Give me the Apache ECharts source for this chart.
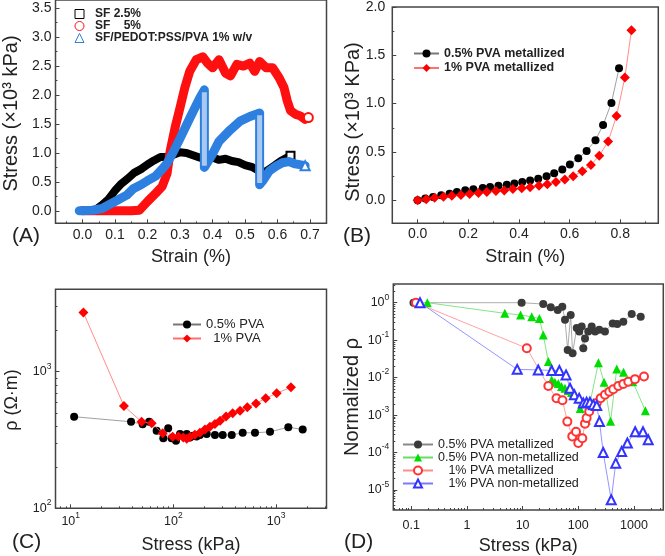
<!DOCTYPE html>
<html><head><meta charset="utf-8">
<script src="https://cdn.jsdelivr.net/npm/echarts@6/dist/echarts.min.js"></script>
<style>html,body{margin:0;padding:0;background:#fff}#c{width:665px;height:556px}</style>
</head><body><div id="c"></div><script>
// ---------- Panel A : strain (%) vs stress (x10^3 kPa) ----------
const aSF25 = [[0.00,0.00],[0.02,0.00],[0.04,0.02],[0.06,0.10],[0.08,0.20],[0.10,0.35],[0.12,0.47],[0.14,0.56],[0.16,0.66],[0.18,0.72],[0.20,0.80],[0.22,0.87],[0.24,0.93],[0.26,0.93],[0.28,0.97],[0.30,1.01],[0.32,1.00],[0.34,0.96],[0.36,0.92],[0.38,0.90],[0.40,0.92],[0.42,0.88],[0.44,0.90],[0.46,0.86],[0.48,0.84],[0.50,0.79],[0.52,0.76],[0.54,0.70],[0.555,0.65],[0.57,0.70],[0.59,0.78],[0.61,0.86],[0.63,0.92],[0.64,0.95]];
const aSF5 = [[0.00,0.00],[0.05,0.00],[0.10,0.00],[0.15,0.00],[0.175,0.01],[0.20,0.16],[0.225,0.30],[0.245,0.42],[0.26,0.64],[0.27,1.04],[0.285,1.44],[0.30,1.78],[0.315,2.13],[0.33,2.41],[0.35,2.61],[0.37,2.66],[0.385,2.55],[0.40,2.47],[0.42,2.61],[0.44,2.38],[0.455,2.33],[0.475,2.53],[0.495,2.50],[0.515,2.55],[0.53,2.41],[0.545,2.58],[0.565,2.47],[0.585,2.47],[0.605,2.30],[0.62,2.13],[0.63,1.90],[0.64,1.73],[0.655,1.67],[0.67,1.64],[0.685,1.58],[0.695,1.61]];
const aPVA = [[-0.01,0.00],[0.03,0.01],[0.06,0.04],[0.09,0.13],[0.11,0.19],[0.136,0.27],[0.156,0.38],[0.18,0.45],[0.20,0.52],[0.225,0.60],[0.245,0.72],[0.26,0.82],[0.275,0.97],[0.30,1.25],[0.33,1.60],[0.36,1.94],[0.375,2.09],[0.375,0.75],[0.40,0.98],[0.42,1.20],[0.455,1.40],[0.485,1.55],[0.515,1.63],[0.545,1.69],[0.545,0.45],[0.555,0.52],[0.575,0.69],[0.595,0.77],[0.615,0.83],[0.635,0.85],[0.655,0.81],[0.685,0.78]];
const aDrop1 = [[0.375,2.05],[0.375,0.78]];
const aDrop2 = [[0.545,1.65],[0.545,0.48]];
const aXTicks = [0,0.1,0.2,0.3,0.4,0.5,0.6,0.7];
const aYTicks = [0,0.5,1.0,1.5,2.0,2.5,3.0,3.5];

// ---------- Panel B ----------
const bStrain05 = [0,0.030,0.061,0.093,0.126,0.155,0.188,0.220,0.257,0.286,0.319,0.352,0.382,0.413,0.444,0.476,0.509,0.539,0.571,0.601,0.634,0.667,0.702,0.732,0.765,0.795];
const bStress05 = [0,0.017,0.034,0.051,0.068,0.085,0.102,0.113,0.126,0.137,0.150,0.160,0.174,0.188,0.205,0.222,0.249,0.280,0.318,0.369,0.434,0.510,0.620,0.779,1.007,1.366];
const bStrain1 = [0,0.034,0.067,0.102,0.135,0.171,0.205,0.240,0.273,0.309,0.342,0.376,0.411,0.444,0.479,0.512,0.546,0.581,0.614,0.650,0.684,0.717,0.752,0.785,0.818,0.844];
const bStress1 = [0,0.010,0.025,0.035,0.045,0.055,0.065,0.075,0.085,0.095,0.100,0.115,0.125,0.135,0.150,0.165,0.188,0.215,0.249,0.300,0.365,0.461,0.607,0.871,1.270,1.760];
const bXTicks = [0,0.2,0.4,0.6,0.8];
const bYTicks = [0,0.5,1.0,1.5,2.0];

// ---------- Panel C ----------
const cStress05 = [10.8,38.7,50.2,58,68.7,79.8,89,96,106,116,125,135,145,156,168,181,211,254,302,370,473,623,873,1316,1816];
const cRho05 = [468,430,412,430,370,325,385,325,312,350,340,350,330,339,335,344,350,344,344,344,357,357,363,392,378];
const cStress1 = [13.3,33,49,61.5,78.7,98.4,112,125,135,145,162,181,203,227,254,285,326,378,446,525,638,792,1014,1396];
const cRho1 = [2706,561,430,419,354,334,335,330,323,333,345,358,378,395,414,437,469,496,517,548,586,638,695,769];
const cXTicks = [10,100,1000];
const cYTicks = [100,1000];

// ---------- Panel D ----------
const dMet05 = [[0.11,1],[9.6,1],[23.5,0.92],[32,0.75],[42.7,0.64],[51.6,0.78],[57.7,0.35],[64.5,0.055],[73,0.47],[79,0.045],[93.7,0.21],[104,0.17],[115,0.23],[123,0.061],[132,0.11],[151,0.17],[174,0.23],[200,0.17],[238,0.19],[301,0.17],[415,0.28],[501,0.27],[643,0.31],[910,0.5],[1320,0.42]];
const dNon05 = [[0.195,1],[4.8,0.52],[9.2,0.47],[14.6,0.42],[20,0.38],[23.5,0.137],[29,0.027],[33.3,0.0087],[38,0.0075],[43.8,0.007],[50,0.0058],[57.7,0.0052],[66,0.0045],[76,0.004],[108,0.0015],[140,0.00074],[230,0.025],[290,0.0075],[380,0.00068],[490,0.017],[650,0.014],[950,0.0078],[1600,0.0013]];
const dMet1 = [[0.122,1],[11.9,0.061],[29,0.006],[40.6,0.0028],[52,0.0025],[63.6,0.00067],[78,0.00027],[91,0.00036],[100,0.00018],[118,0.00024],[132,0.00059],[141,0.00083],[157,0.00125],[186,0.0017],[214,0.0021],[252,0.0028],[301,0.0035],[360,0.0042],[424,0.0049],[523,0.006],[643,0.0068],[791,0.0078],[1042,0.0091],[1512,0.0107]];
const dNon1 = [[0.144,1],[8,0.0166],[19.1,0.016],[33.3,0.0155],[45.7,0.0155],[60.3,0.0118],[71,0.0052],[85,0.0035],[104,0.0028],[123,0.0021],[141,0.0022],[162,0.0022],[186,0.0019],[214,0.0018],[240,0.00067],[280,0.0001],[390,5.5e-6],[470,5.2e-5],[600,1.07e-4],[760,1.8e-4],[1050,3.6e-4],[1450,3.6e-4],[1800,2.2e-4]];
const dXTicks = [0.1,1,10,100,1000];
const dYTicks = [1e-5,1e-4,1e-3,1e-2,1e-1,1];

// ---------- helpers (styling only) ----------
const FONT = '"Liberation Sans", Arial, sans-serif';
const AX = '#444';
const TXT = '#222';
function minorsBetween(lo, hi, step){ const r=[]; for(let v=lo; v<=hi+1e-9; v+=step) r.push(+v.toFixed(4)); return r; }
function logMinors(e0, e1){ const r=[]; for(let e=e0;e<=e1;e++){ for(let k=2;k<=9;k++) r.push(k*Math.pow(10,e)); } return r; }
function supFmt(v){ const e=Math.round(Math.log10(v)); return '{b|10}{s|'+e+'}'; }
const rich = {
  b:{fontSize:12.5, lineHeight:20, fontFamily:FONT, color:TXT},
  s:{fontSize:8.5, lineHeight:6, verticalAlign:'top', fontFamily:FONT, color:TXT}
};
function ax(o){
  return {
    type:o.type||'value', logBase:10, gridIndex:o.grid, position:o.pos, min:o.min, max:o.max,
    axisLine:{show:false, onZero:false},
    splitLine:{show:false}, minorTick:{show:false},
    axisTick:{show:true, inside:true, length:o.len||4, customValues:o.ticks, lineStyle:{color:AX, width:1}},
    axisLabel: o.labels ? {show:true, customValues:o.labels, formatter:o.fmt, margin:o.margin, fontSize:o.fs||14,
      fontFamily:FONT, color:TXT, rich:o.rich, hideOverlap:false} : {show:false},
    name:o.name||'', nameLocation:'middle', nameGap:o.gap||0,
    nameTextStyle:{fontSize:18, fontFamily:FONT, color:TXT}
  };
}
const f1 = v => v.toFixed(1);
const fD = v => v < 1 ? '0.1' : String(Math.round(v));

const grids = [
  {left:55.5, top:-2, width:271, height:225.3},
  {left:392.3, top:5, width:266, height:218.3},
  {left:55.5, top:289.3, width:271, height:219},
  {left:393.3, top:284, width:270, height:226}
].map(g => Object.assign({show:true, borderColor:AX, borderWidth:1.5, backgroundColor:'transparent', containLabel:false}, g));

const xAxes = [
  ax({grid:0,pos:'bottom',min:-0.0831,max:0.7508,ticks:aXTicks,labels:aXTicks,fmt:f1,margin:5,name:'Strain (%)',gap:25}),
  ax({grid:0,pos:'bottom',min:-0.0831,max:0.7508,ticks:minorsBetween(-0.05,0.75,0.1),len:2}),
  ax({grid:1,pos:'bottom',min:-0.1,max:0.95,ticks:bXTicks,labels:bXTicks,fmt:f1,margin:4,name:'Strain (%)',gap:25}),
  ax({grid:1,pos:'bottom',min:-0.1,max:0.95,ticks:minorsBetween(-0.1,0.9,0.2),len:2}),
  ax({type:'log',grid:2,pos:'bottom',min:Math.pow(10,0.852),max:Math.pow(10,3.491),ticks:cXTicks,labels:cXTicks,fmt:supFmt,rich:rich,margin:3,name:'Stress (kPa)',gap:28}),
  ax({type:'log',grid:2,pos:'bottom',min:Math.pow(10,0.852),max:Math.pow(10,3.491),ticks:logMinors(0,3),len:2}),
  ax({type:'log',grid:3,pos:'bottom',min:Math.pow(10,-1.321),max:Math.pow(10,3.526),ticks:dXTicks,labels:dXTicks,fmt:fD,fs:12.5,margin:9,name:'Stress (kPa)',gap:27}),
  ax({type:'log',grid:3,pos:'bottom',min:Math.pow(10,-1.321),max:Math.pow(10,3.526),ticks:logMinors(-2,3),len:2})
];
const yAxes = [
  ax({grid:0,pos:'left',min:-0.216,max:3.642,ticks:aYTicks,labels:aYTicks,fmt:f1,margin:4}),
  ax({grid:0,pos:'left',min:-0.216,max:3.642,ticks:minorsBetween(-0.25,3.75,0.5),len:2}),
  ax({grid:1,pos:'left',min:-0.239,max:2.0,ticks:bYTicks,labels:bYTicks,fmt:f1,margin:7}),
  ax({grid:1,pos:'left',min:-0.239,max:2.0,ticks:minorsBetween(-0.25,1.75,0.5),len:2}),
  ax({type:'log',grid:2,pos:'left',min:100,max:Math.pow(10,3.603),ticks:cYTicks,labels:cYTicks,fmt:supFmt,rich:rich,margin:4}),
  ax({type:'log',grid:2,pos:'left',min:100,max:Math.pow(10,3.603),ticks:logMinors(2,3),len:2}),
  ax({type:'log',grid:3,pos:'left',min:Math.pow(10,-5.534),max:Math.pow(10,0.499),ticks:dYTicks,labels:dYTicks,fmt:supFmt,rich:rich,margin:4}),
  ax({type:'log',grid:3,pos:'left',min:Math.pow(10,-5.534),max:Math.pow(10,0.499),ticks:logMinors(-6,0),len:2})
];

function endSize(arr, s){ return (v,p) => p.dataIndex === arr.length-1 ? s : 0; }
const zip = (a,b) => a.map((v,i)=>[v,b[i]]);
const BLUE = '#2d7fe0';

const series = [
  // A
  {type:'line', name:'SF 2.5%', xAxisIndex:0, yAxisIndex:0, data:aSF25, symbol:'emptyRect', symbolSize:endSize(aSF25,8), showSymbol:true,
   lineStyle:{color:'#000', width:8, join:'round', cap:'round'}, itemStyle:{color:'#000', borderWidth:1}, z:2},
  {type:'line', name:'SF    5%', xAxisIndex:0, yAxisIndex:0, data:aSF5, symbol:'emptyCircle', symbolSize:endSize(aSF5,9), showSymbol:true,
   lineStyle:{color:'#ff1010', width:9, join:'round', cap:'round'}, itemStyle:{color:'#ff1010', borderWidth:1}, z:3},
  {type:'line', name:'SF/PEDOT:PSS/PVA 1% w/v', xAxisIndex:0, yAxisIndex:0, data:aPVA, symbol:'emptyTriangle', symbolSize:endSize(aPVA,9), showSymbol:true,
   lineStyle:{color:BLUE, width:9, join:'round', cap:'round'}, itemStyle:{color:BLUE, borderWidth:1}, z:4},
  {type:'line', name:'drop1', xAxisIndex:0, yAxisIndex:0, data:aDrop1, showSymbol:false, lineStyle:{color:'#a9c9f0', width:5}, z:5},
  {type:'line', name:'drop2', xAxisIndex:0, yAxisIndex:0, data:aDrop2, showSymbol:false, lineStyle:{color:'#a9c9f0', width:5}, z:5},
  // B
  {type:'line', name:'0.5% PVA metallized', xAxisIndex:2, yAxisIndex:2, data:zip(bStrain05,bStress05), symbol:'circle', symbolSize:8,
   lineStyle:{color:'#777', width:0.7}, itemStyle:{color:'#000'}, z:3},
  {type:'line', name:'1% PVA metallized', xAxisIndex:2, yAxisIndex:2, data:zip(bStrain1,bStress1), symbol:'diamond', symbolSize:10,
   lineStyle:{color:'#ff7070', width:0.8}, itemStyle:{color:'#ff0000'}, z:4},
  // C
  {type:'line', name:'0.5% PVA', xAxisIndex:4, yAxisIndex:4, data:zip(cStress05,cRho05), symbol:'circle', symbolSize:8,
   lineStyle:{color:'#777', width:0.7}, itemStyle:{color:'#000'}, z:3},
  {type:'line', name:'  1% PVA', xAxisIndex:4, yAxisIndex:4, data:zip(cStress1,cRho1), symbol:'diamond', symbolSize:10,
   lineStyle:{color:'#ff7070', width:0.8}, itemStyle:{color:'#ff0000'}, z:4},
  // D
  {type:'line', name:'0.5% PVA metallized ', xAxisIndex:6, yAxisIndex:6, data:dMet05, symbol:'circle', symbolSize:8,
   lineStyle:{color:'#888', width:0.7}, itemStyle:{color:'#3a3a3a'}, z:3},
  {type:'line', name:'0.5% PVA non-metallized', xAxisIndex:6, yAxisIndex:6, data:dNon05, symbol:'triangle', symbolSize:9,
   lineStyle:{color:'#66dd66', width:0.8}, itemStyle:{color:'#00dd00'}, z:4},
  {type:'line', name:'   1% PVA metallized', xAxisIndex:6, yAxisIndex:6, data:dMet1, symbol:'emptyCircle', symbolSize:8,
   lineStyle:{color:'#ff8c8c', width:0.8}, itemStyle:{color:'#ff3333', borderWidth:1}, z:5},
  {type:'line', name:'   1% PVA non-metallized', xAxisIndex:6, yAxisIndex:6, data:dNon1, symbol:'emptyTriangle', symbolSize:9,
   lineStyle:{color:'#7a7aff', width:0.8}, itemStyle:{color:'#3333ff', borderWidth:1}, z:6}
];

const legends = [
  {left:74.5, top:8, padding:0, orient:'vertical', itemWidth:9, itemHeight:9, itemGap:0, selectedMode:false,
   textStyle:{fontSize:12, fontWeight:'bold', fontFamily:FONT, color:TXT, padding:[0,0,0,6]},
   data:[{name:'SF 2.5%', icon:'rect', itemStyle:{color:'#fff', borderColor:'#000', borderWidth:1}},
         {name:'SF    5%', icon:'circle', itemStyle:{color:'#fff', borderColor:'#ff1010', borderWidth:1}},
         {name:'SF/PEDOT:PSS/PVA 1% w/v', icon:'triangle', itemStyle:{color:'#fff', borderColor:BLUE, borderWidth:1}}]},
  {left:413, top:47, padding:0, orient:'vertical', itemWidth:25, itemHeight:10, itemGap:1.5, selectedMode:false,
   textStyle:{fontSize:12.5, fontWeight:'bold', fontFamily:FONT, color:TXT},
   data:['0.5% PVA metallized','1% PVA metallized']},
  {left:172, top:318, padding:0, orient:'vertical', itemWidth:28, itemHeight:10, itemGap:1, selectedMode:false,
   textStyle:{fontSize:13, fontFamily:FONT, color:TXT},
   data:['0.5% PVA','  1% PVA']},
  {left:402, top:438, padding:0, orient:'vertical', itemWidth:30, itemHeight:10, itemGap:0, selectedMode:false,
   textStyle:{fontSize:12.5, fontFamily:FONT, color:TXT},
   data:['0.5% PVA metallized ',
         '0.5% PVA non-metallized',
         {name:'   1% PVA metallized', itemStyle:{borderWidth:1}},
         {name:'   1% PVA non-metallized', itemStyle:{borderWidth:1}}]}
];

const ytitle = (x, y, text, fs) => ({type:'text', x:x, y:y, rotation:Math.PI/2,
  style:{text:text, fontSize:fs, fontFamily:FONT, fill:TXT, align:'center', verticalAlign:'middle'}});
const graphic = [
  {type:'text', left:12, top:226, style:{text:'(A)', fontSize:21, fontFamily:FONT, fill:TXT}},
  {type:'text', left:343, top:226, style:{text:'(B)', fontSize:21, fontFamily:FONT, fill:TXT}},
  {type:'text', left:12, top:532, style:{text:'(C)', fontSize:21, fontFamily:FONT, fill:TXT}},
  {type:'text', left:344, top:532, style:{text:'(D)', fontSize:21, fontFamily:FONT, fill:TXT}},
  ytitle(11, 113.5, 'Stress (×10³ kPa)', 20),
  ytitle(353.5, 122, 'Stress (×10³ KPa)', 20),
  ytitle(12.5, 400, 'ρ (Ω·m)', 18),
  ytitle(352.5, 397, 'Normalized ρ', 20)
];

const chart = echarts.init(document.getElementById('c'), null, {renderer:'canvas'});
chart.setOption({
  animation:false, backgroundColor:'#fff',
  grid:grids, xAxis:xAxes, yAxis:yAxes, series:series, legend:legends, graphic:graphic
});
</script></body></html>
